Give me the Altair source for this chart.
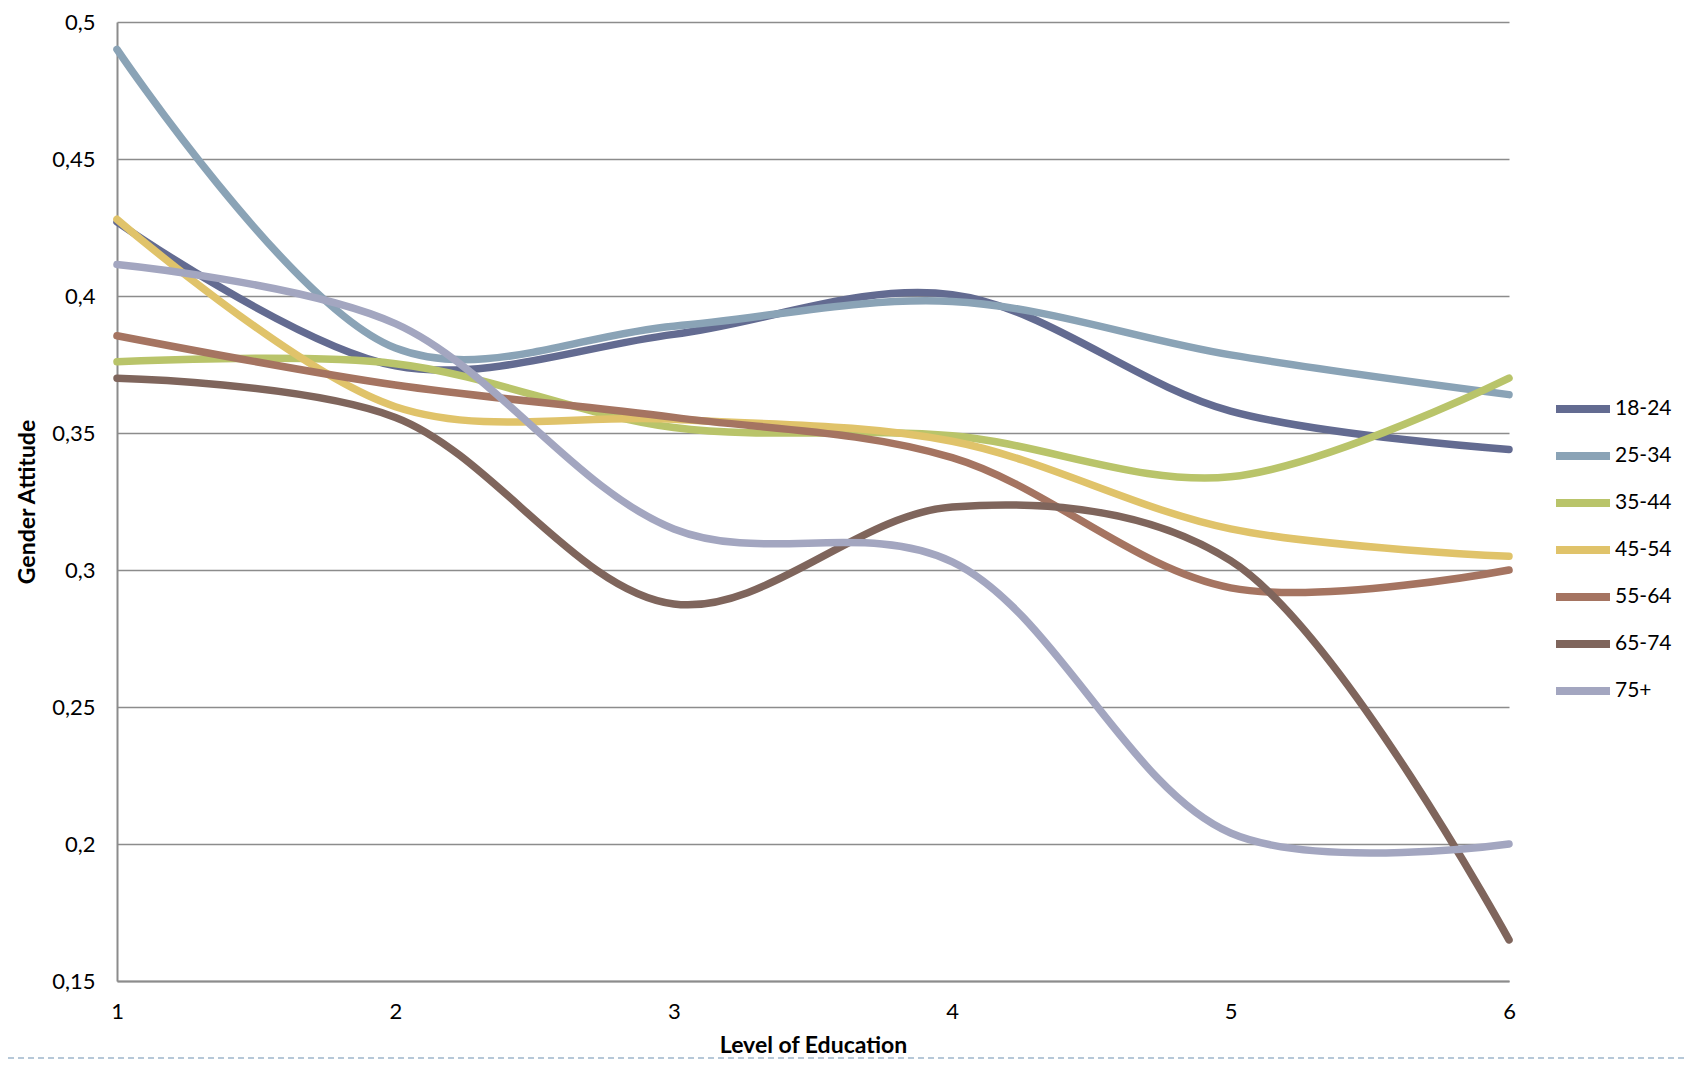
import altair as alt
import pandas as pd

education = [1, 2, 3, 4, 5, 6]
groups = ["18-24", "25-34", "35-44", "45-54", "55-64", "65-74", "75+"]
colors = ["#636b91", "#8aa3b6", "#b9c46a", "#e0c36a", "#a57461", "#7f655c", "#a3a6c0"]

v_18_24 = [0.427, 0.3745, 0.386, 0.4005, 0.358, 0.344]
v_25_34 = [0.490, 0.381, 0.389, 0.398, 0.3785, 0.364]
v_35_44 = [0.376, 0.3753, 0.352, 0.349, 0.334, 0.370]
v_45_54 = [0.428, 0.3596, 0.355, 0.347, 0.315, 0.305]
v_55_64 = [0.3855, 0.3675, 0.3557, 0.341, 0.2935, 0.300]
v_65_74 = [0.370, 0.3557, 0.2876, 0.323, 0.3034, 0.165]
v_75 = [0.4115, 0.3899, 0.315, 0.303, 0.204, 0.200]

series = [v_18_24, v_25_34, v_35_44, v_45_54, v_55_64, v_65_74, v_75]
y_ticks = [0.15, 0.2, 0.25, 0.3, 0.35, 0.4, 0.45, 0.5]

rows = []
for gi, (g, vals) in enumerate(zip(groups, series)):
    for x, v in zip(education, vals):
        rows.append({"Level": x, "Value": v, "Group": g, "order": gi})
df = pd.DataFrame(rows)

W, H = 1392, 959
PAD = {"left": 109, "top": 14, "right": 179, "bottom": 79}
FONT = "Lato"

lines = alt.Chart(df).mark_line(
    interpolate="catmull-rom", strokeWidth=7.5, strokeCap="round"
).encode(
    x=alt.X("Level:Q",
            scale=alt.Scale(domain=[1, 6], nice=False, zero=False),
            axis=alt.Axis(values=education, format="d", grid=False, ticks=False,
                          domainColor="#8c8c8c", domainWidth=2,
                          labelFontSize=22, labelColor="black", labelFont=FONT,
                          labelPadding=20, labelFlush=False,
                          title="Level of Education", titleFont=FONT,
                          titleFontSize=23, titleFontWeight="bold",
                          titleColor="black", titlePadding=12)),
    y=alt.Y("Value:Q",
            scale=alt.Scale(domain=[0.15, 0.5], nice=False, zero=False),
            axis=alt.Axis(values=y_ticks,
                          labelExpr="replace(format(datum.value, '.2~f'), '.', ',')",
                          grid=True, gridColor="#8c8c8c", gridWidth=1.5,
                          ticks=False, domainColor="#8c8c8c", domainWidth=2,
                          labelFontSize=22, labelColor="black", labelFont=FONT,
                          labelPadding=22,
                          title="Gender Attitude", titleFont=FONT,
                          titleFontSize=23, titleFontWeight="bold",
                          titleColor="black", titlePadding=12)),
    color=alt.Color("Group:N",
                    scale=alt.Scale(domain=groups, range=colors),
                    legend=alt.Legend(title=None, orient="none",
                                      legendX=1435, legendY=356,
                                      symbolType="stroke", symbolSize=2916,
                                      symbolStrokeWidth=8,
                                      labelFontSize=21, labelFont=FONT,
                                      labelColor="black", labelOffset=1,
                                      rowPadding=0)),
    order=alt.Order("order:Q"),
    detail="Group:N",
)

dash = alt.Chart(pd.DataFrame({"a": [0]})).mark_rule(
    color="#9fb6cc", strokeDash=[6, 4], strokeWidth=1.5
).encode(x=alt.value(-PAD["left"]), x2=alt.value(W + PAD["right"]),
         y=alt.value(H + PAD["bottom"] - 2))

chart = alt.layer(lines, dash).properties(
    width=W, height=H,
    autosize=alt.AutoSizeParams(type="none"),
    padding=PAD,
).configure_view(stroke=None)

chart.save("out.html", embed_options={"renderer": "svg", "actions": False})
